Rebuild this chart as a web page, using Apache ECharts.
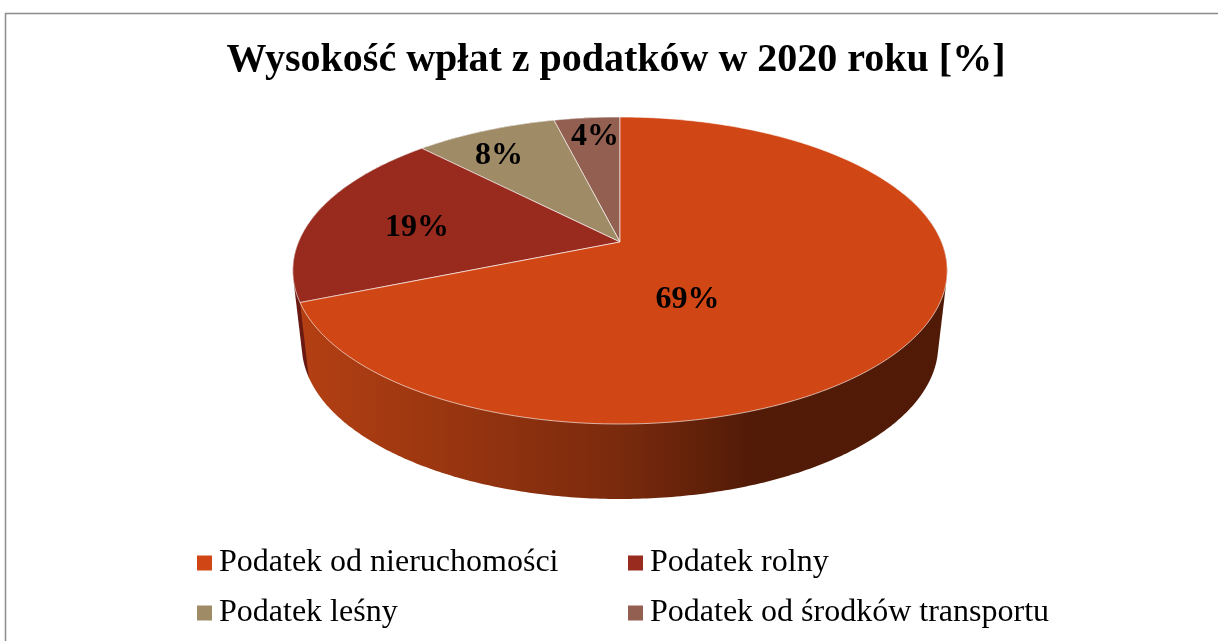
<!DOCTYPE html>
<html><head><meta charset="utf-8">
<style>html,body{margin:0;padding:0;background:#fff}#c{width:1218px;height:641px}</style>
<script src="https://cdn.jsdelivr.net/npm/echarts@6/dist/echarts.min.js"></script>
</head><body><div id="c"></div>
<script>
const categories = ['Podatek od nieruchomości', 'Podatek rolny', 'Podatek leśny', 'Podatek od środków transportu'];
const values = [68.8, 18.9, 8.4, 3.9];
const topColors = ['#D14615', '#982A1E', '#A08B67', '#935F50'];
const labelAngleShare = [0.61, 0.48, 0.39, 0.54];
const labelRadius = [0.397, 0.661, 0.798, 0.848];

const FONT = '"Liberation Serif", serif';
const total = values.reduce((a, b) => a + b, 0);
// Perspective model of the tilted disc
const TIP = [620, 242], A = 321.5, B = 148.2, K = 0.1857;
const RIM_RX = 327, DEPTH = 75, FLOOR_RX = 318, WALL_FROM = 70 * Math.PI / 180;
function project(theta, r) {
  const U = r * Math.sin(theta), V = r * Math.cos(theta), d = 1 + K * V;
  return [TIP[0] + A * U / d, TIP[1] - B * V / d];
}
function floorPoint(p) {
  return [TIP[0] + (p[0] - TIP[0]) * FLOOR_RX / RIM_RX, p[1] + DEPTH];
}
function arcPoints(t0, t1) {
  const n = Math.max(4, Math.ceil((t1 - t0) * 90)), pts = [];
  for (let i = 0; i <= n; i++) pts.push(project(t0 + (t1 - t0) * i / n, 1));
  return pts;
}
function hull(points) {
  const p = points.slice().sort((a, b) => a[0] - b[0] || a[1] - b[1]);
  const cross = (o, a, b) => (a[0] - o[0]) * (b[1] - o[1]) - (a[1] - o[1]) * (b[0] - o[0]);
  const half = list => {
    const out = [];
    for (const q of list) {
      while (out.length > 1 && cross(out[out.length - 2], out[out.length - 1], q) <= 0) out.pop();
      out.push(q);
    }
    out.pop();
    return out;
  };
  return half(p).concat(half(p.slice().reverse()));
}
const wallFill = [
  { type: 'linear', x: 292, y: 0, x2: 947, y2: 0, global: true,
    colorStops: [{ offset: 0, color: '#B54013' }, { offset: 0.5, color: '#7A2A0D' }, { offset: 0.7, color: '#521B07' }, { offset: 1, color: '#501A06' }] },
  '#6A1A12', '#6b5c42', '#60392f'
];
function renderSlice(index) {
  return function (params, api) {
    const value = api.value(0), before = api.value(1);
    const t0 = before / total * 2 * Math.PI, t1 = (before + value) / total * 2 * Math.PI;
    const rim = arcPoints(t0, t1);
    const wallRim = arcPoints(Math.max(t0, WALL_FROM), t1);
    const wall = hull(wallRim.concat(wallRim.map(floorPoint)));
    const tm = t0 + (t1 - t0) * labelAngleShare[index];
    const lp = project(tm, labelRadius[index]);
    return {
      type: 'group',
      children: [
        { type: 'polygon', shape: { points: wall }, style: { fill: wallFill[index] } },
        { type: 'polygon', shape: { points: [TIP].concat(rim) },
          style: { fill: topColors[index], stroke: 'rgba(255,255,255,0.62)', lineWidth: 1 } },
        { type: 'text', x: lp[0] + 1.5, y: lp[1] + 2.5,
          style: { text: Math.round(value / total * 100) + '%', fill: '#000', font: 'bold 32px ' + FONT, align: 'center', verticalAlign: 'middle' } }
      ]
    };
  };
}
let running = 0;
const slices = values.map((v, i) => {
  const s = {
    type: 'custom', name: categories[i], coordinateSystem: 'none',
    itemStyle: { color: topColors[i] },
    dimensions: ['value', 'before'],
    data: [[v, running]],
    renderItem: renderSlice(i), silent: true, animation: false
  };
  running += v;
  return s;
});
const legendAt = [[197, 547], [628, 547], [197, 597], [628, 597]];
const chart = echarts.init(document.getElementById('c'), null, { renderer: 'canvas' });
chart.setOption({
  backgroundColor: '#fff',
  animation: false,
  title: { text: 'Wysokość wpłat z podatków w 2020 roku [%]', left: 611, top: 36, textAlign: 'center',
    textStyle: { fontFamily: FONT, fontWeight: 'bold', fontSize: 40, color: '#000' } },
  legend: categories.map((c, i) => ({
    data: [{ name: c, icon: 'rect' }], left: legendAt[i][0], top: legendAt[i][1], padding: 0,
    itemWidth: 15, itemHeight: 15, itemGap: 0, selectedMode: false,
    textStyle: { fontFamily: FONT, fontSize: 32, color: '#000', padding: [0, 0, 0, 2] }
  })),
  graphic: [{ type: 'polyline', silent: true, shape: { points: [[5.5, 641], [5.5, 13.5], [1218, 13.5]] },
    style: { stroke: '#8c8c8c', lineWidth: 1.5, fill: 'none' } }],
  // Painted back to front so the largest slice's face sits on top of the neighbouring wall
  series: slices.slice().reverse()
});
</script></body></html>
